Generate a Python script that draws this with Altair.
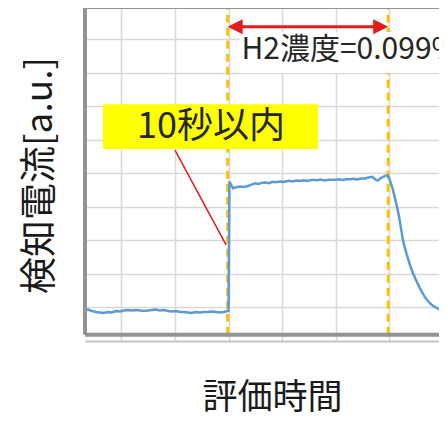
import altair as alt
import pandas as pd

# ---- data ----
time = [-34.1, -31.3, -27.6, -23.8, -20.1, -16.4, -12.6, -8.9, -5.1, -1.4,
        2.3, 6.1, 9.8, 13.6, 17.3, 21.0, 24.8, 28.5, 32.2, 36.0,
        39.7, 43.5, 47.2, 50.9, 54.7, 58.4, 62.2, 65.9, 69.6, 73.4,
        77.1, 80.8, 84.6, 88.3, 92.0, 95.8, 98.6, 100.0,
        100.9, 104.2, 107.0, 110.7, 114.0, 117.3, 121.0, 124.8, 128.0, 131.0,
        134.1, 138.0, 141.0, 144.0, 148.1, 152.0, 156.0, 160.0, 163.0, 166.8,
        170.0, 174.0, 178.0, 182.7, 186.0, 190.0, 194.0, 199.5, 203.0, 207.0,
        210.0, 213.5, 217.0, 220.0, 224.0, 227.5, 231.0, 234.1, 236.0, 238.0,
        239.7, 242.0, 244.4, 246.5, 248.6, 250.0, 250.9, 252.3, 253.7, 255.6,
        257.5, 259.0, 260.2, 261.6, 263.0, 264.8, 266.7, 269.5, 272.3, 275.5,
        278.8, 281.2, 283.5, 286.0, 288.2, 291.5, 294.7, 298.0, 301.0, 304.2]
current = [9.10, 9.40, 8.96, 8.66, 8.51, 8.36, 8.66, 8.51, 8.96, 8.81,
           9.10, 9.25, 9.10, 9.25, 9.10, 8.96, 9.10, 9.25, 9.40, 9.10,
           9.25, 8.96, 8.81, 8.96, 8.66, 8.66, 8.51, 8.36, 8.66, 8.51,
           8.66, 8.66, 8.81, 8.66, 8.51, 8.66, 8.96, 9.00,
           47.6, 45.6, 45.9, 46.1, 46.0, 46.2, 46.6, 47.1, 46.9, 47.2,
           47.3, 47.1, 47.5, 47.4, 47.6, 47.5, 47.8, 47.6, 47.9, 47.8,
           48.0, 47.8, 48.1, 48.0, 48.2, 47.9, 48.1, 48.1, 48.3, 48.1,
           48.3, 48.3, 48.4, 48.2, 48.5, 48.5, 48.8, 49.0, 48.6, 48.0,
           47.9, 48.6, 49.0, 49.3, 49.5, 48.7, 47.9, 46.5, 45.1, 42.5,
           40.0, 37.7, 35.5, 32.8, 30.1, 27.8, 25.7, 22.8, 20.3, 18.0,
           15.8, 14.4, 13.1, 12.1, 11.3, 10.4, 9.85, 9.3, 9.0, 8.8]

grid_x = [0, 50, 100, 150, 200, 250]
grid_y = [10, 20, 30, 40, 50, 60, 70, 80, 90]
markers = [99.2, 249.2]          # gas on / gas off
x_domain = [-34.1, 296.7]
y_domain = [0, 99.4]

label_box = {"t1": -17.3, "t2": 183.7, "v1": 57.3, "v2": 70.7}
label_text = {"t": 83.7, "v": 63.9, "txt": "10秒以内"}
conc_box = {"t1": 110.7, "t2": 296.7, "v1": 80.0, "v2": 92.2}
conc_text = {"t": 112.1, "v": 86.9, "txt": "H2濃度=0.099%"}
leader = {"t1": 50.0, "v1": 57.0, "t2": 97.7, "v2": 28.7}
arrow_v = 93.8
frame_bottom_v = 1.9

FONT = "Noto Sans CJK JP"
RED = "#e31b1b"
TXT = "#262626"

df = pd.DataFrame({"t": time, "v": current})
xs = alt.Scale(domain=x_domain, zero=False, nice=False)
ys = alt.Scale(domain=y_domain, zero=False, nice=False)

x_axis = alt.Axis(values=grid_x, grid=True, labels=False, ticks=False, domain=True,
                  domainColor="#c4c4c4", domainWidth=2, gridColor="#d9d9d9", gridWidth=1.6,
                  title="評価時間", titleFont=FONT, titleFontSize=35, titleFontWeight="normal",
                  titleColor="#1a1a1a", titleX=187, titleY=56, titleAlign="center",
                  titleBaseline="middle")
y_axis = alt.Axis(values=grid_y, grid=True, labels=False, ticks=False, domain=False,
                  gridColor="#d9d9d9", gridWidth=1.6,
                  title="検知電流[a.u.]", titleFont=FONT, titleFontSize=37, titleFontWeight="normal",
                  titleColor="#1a1a1a", titleAngle=270, titleX=-45, titleY=167,
                  titleAlign="center", titleBaseline="middle")

markers_df = pd.DataFrame({"t": markers})
vlines = alt.Chart(markers_df).mark_rule(color="#ffc000", strokeWidth=3, strokeDash=[8, 5]).encode(
    x=alt.X("t:Q", scale=xs, axis=x_axis),
    y=alt.Y("lo:Q", scale=ys, axis=y_axis),
    y2="hi:Q",
).transform_calculate(lo=str(frame_bottom_v), hi=str(y_domain[1]))

line = alt.Chart(df).mark_line(color="#5b9bd5", strokeWidth=2.5, clip=True).encode(
    x=alt.X("t:Q", scale=xs), y=alt.Y("v:Q", scale=ys))

white = alt.Chart(pd.DataFrame([conc_box])).mark_rect(color="white", clip=True).encode(
    x="t1:Q", x2="t2:Q", y="v1:Q", y2="v2:Q")
yellow = alt.Chart(pd.DataFrame([label_box])).mark_rect(color="#ffff00").encode(
    x="t1:Q", x2="t2:Q", y="v1:Q", y2="v2:Q")
ytext = alt.Chart(pd.DataFrame([label_text])).mark_text(
    font=FONT, fontSize=36, color=TXT, align="center", baseline="middle").encode(
    x="t:Q", y="v:Q", text="txt:N")
ctext = alt.Chart(pd.DataFrame([conc_text])).mark_text(
    font=FONT, fontSize=30, color=TXT, align="left", baseline="middle", clip=True).encode(
    x="t:Q", y="v:Q", text="txt:N")
lead = alt.Chart(pd.DataFrame([leader])).mark_rule(color=RED, strokeWidth=1.5).encode(
    x="t1:Q", x2="t2:Q", y="v1:Q", y2="v2:Q")

arrow_df = pd.DataFrame({"t1": [markers[0] + 3], "t2": [markers[1] - 3], "v": [arrow_v]})
arrow = alt.Chart(arrow_df).mark_rule(color=RED, strokeWidth=3).encode(
    x="t1:Q", x2="t2:Q", y="v:Q")
heads_df = pd.DataFrame({"t": markers, "v": [arrow_v, arrow_v],
                         "shape": ["M0,0L2,-1L2,1Z", "M0,0L-2,-1L-2,1Z"]})
heads = alt.Chart(heads_df).mark_point(filled=True, color=RED, opacity=1, size=225, strokeWidth=0).encode(
    x="t:Q", y="v:Q", shape=alt.Shape("shape:N", scale=None, legend=None))

frame_color = "#939393"
left_frame = alt.Chart(pd.DataFrame({"t": [x_domain[0]], "lo": [frame_bottom_v], "hi": [y_domain[1]]})).mark_rule(
    color=frame_color, strokeWidth=4).encode(x="t:Q", y="lo:Q", y2="hi:Q")
bottom_frame = alt.Chart(pd.DataFrame({"a": [x_domain[0]], "b": [x_domain[1]], "v": [frame_bottom_v]})).mark_rule(
    color=frame_color, strokeWidth=4).encode(x="a:Q", x2="b:Q", y="v:Q")
top_frame = alt.Chart(pd.DataFrame({"a": [x_domain[0]], "b": [x_domain[1]], "v": [y_domain[1]]})).mark_rule(
    color=frame_color, strokeWidth=2).encode(x="a:Q", x2="b:Q", y="v:Q")

chart = alt.layer(
    vlines, line, white, yellow, ytext, ctext, lead, arrow, heads,
    left_frame, bottom_frame, top_frame
).properties(
    width=354, height=333,
    padding={"left": 77, "top": 0, "right": 0, "bottom": 77},
    autosize=alt.AutoSizeParams(type="none"),
).configure_view(stroke="transparent")

chart.save("out.html", embed_options={"renderer": "svg", "actions": False})
